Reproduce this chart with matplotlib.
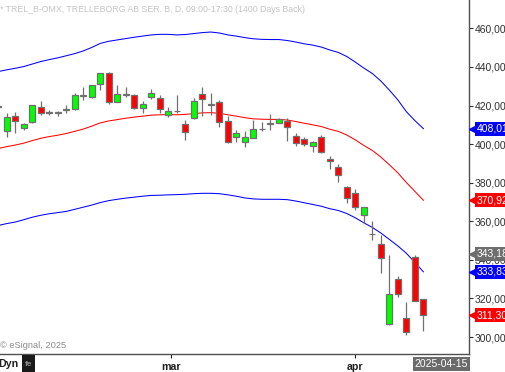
import numpy as np
import matplotlib
matplotlib.use("Agg")
import matplotlib.pyplot as plt
from matplotlib.patches import Rectangle

plt.rcParams['font.family'] = ['Liberation Sans', 'DejaVu Sans']

# daily candles, TREL_B (open, high, low, close)
opens = [419.6, 406.9, 414.6, 408.5, 411.3, 419.4, 416.5, 416.2, 417.8, 418.2,
         425.1, 424.2, 431.0, 436.7, 422.0, 425.8, 425.4, 418.5, 424.2, 423.7,
         414.9, 417.0, 410.3, 413.4, 425.8, 420.6, 421.7, 412.1, 403.8, 401.2,
         403.3, 407.9, 410.4, 411.1, 412.0, 404.4, 402.5, 399.2, 403.8, 392.1,
         388.0, 377.6, 374.5, 363.3, 353.6, 348.1, 306.6, 330.0, 309.7, 341.3,
         319.6]
highs = [420.5, 416.3, 416.8, 411.1, 420.5, 422.3, 417.7, 417.3, 420.3, 426.3,
         429.4, 430.8, 436.9, 437.2, 430.6, 429.4, 426.0, 422.3, 428.4, 425.4,
         419.1, 425.4, 412.5, 423.7, 429.4, 426.3, 422.9, 414.6, 407.3, 406.9,
         412.5, 411.6, 415.4, 413.4, 413.4, 405.6, 403.8, 401.8, 404.7, 393.8,
         389.7, 378.3, 376.7, 367.5, 360.2, 352.9, 342.5, 331.7, 318.3, 342.5,
         319.8]
lows = [418.5, 403.8, 405.6, 407.3, 411.0, 415.1, 415.1, 414.7, 416.0, 417.7,
        422.9, 423.7, 428.0, 420.6, 421.8, 424.6, 418.0, 416.0, 423.2, 416.0,
        414.2, 416.0, 402.1, 413.2, 414.7, 415.1, 408.7, 400.4, 401.2, 398.7,
        403.1, 406.8, 407.3, 410.8, 401.8, 399.2, 399.0, 396.1, 395.2, 387.1,
        380.5, 369.3, 365.9, 359.0, 350.3, 333.4, 306.4, 320.9, 301.1, 318.5,
        303.3]
closes = [419.4, 414.2, 411.8, 410.3, 420.3, 416.0, 416.2, 416.5, 418.2, 425.4,
          425.5, 430.6, 436.7, 422.0, 426.0, 425.4, 418.5, 420.6, 426.3, 418.0,
          417.3, 417.4, 406.1, 422.5, 423.2, 420.2, 411.6, 400.9, 405.6, 403.8,
          407.7, 407.7, 410.8, 412.9, 409.0, 400.4, 399.9, 401.2, 395.8, 391.1,
          383.8, 371.9, 367.3, 367.3, 353.2, 340.8, 322.2, 322.2, 302.5, 318.7,
          311.3]

# bollinger bands
upper = [437.6, 438.5, 439.3, 440.2, 441.5, 442.8, 443.8, 444.7, 445.8, 446.9,
         448.3, 450.1, 452.2, 453.3, 454.0, 454.7, 455.4, 456.0, 456.6, 456.9,
         456.9, 456.6, 456.8, 457.3, 457.8, 458.1, 457.6, 456.6, 456.0, 455.2,
         454.6, 454.3, 454.2, 454.2, 453.7, 452.9, 452.0, 451.3, 450.3, 448.8,
         447.5, 445.4, 442.5, 439.4, 436.6, 432.7, 428.0, 422.9, 416.8, 412.2,
         408.0]
middle = [397.7, 398.7, 399.5, 400.5, 401.8, 403.0, 403.9, 404.6, 405.5, 406.6,
          407.8, 409.3, 411.0, 412.0, 412.7, 413.4, 414.0, 414.5, 415.0, 415.2,
          415.3, 415.2, 415.4, 415.8, 416.2, 416.3, 416.0, 415.2, 414.5, 413.7,
          413.1, 412.9, 412.8, 412.8, 412.5, 411.7, 410.8, 410.0, 409.1, 407.7,
          406.6, 404.7, 402.2, 399.3, 396.7, 393.3, 389.3, 385.1, 380.1, 375.5,
          370.9]
lower = [357.8, 358.8, 359.6, 360.8, 362.1, 363.1, 363.9, 364.5, 365.1, 366.2,
         367.3, 368.4, 369.7, 370.7, 371.4, 372.0, 372.5, 373.0, 373.4, 373.5,
         373.7, 373.8, 374.0, 374.3, 374.5, 374.5, 374.3, 373.7, 373.0, 372.1,
         371.6, 371.4, 371.4, 371.4, 371.2, 370.5, 369.6, 368.7, 367.8, 366.5,
         365.6, 364.0, 361.8, 359.2, 356.8, 353.9, 350.6, 347.2, 343.4, 338.7,
         333.8]

month_pos = [20.3, 42.0]
month_labels = ['mar', 'apr']
yticks = [300, 320, 340, 360, 380, 400, 420, 440, 460]

# right-hand value tags: (value, text, colour)
tags = [(408.01, '408,01', '#0000ff'),
        (370.92, '370,92', '#ff0000'),
        (343.18, '343,18', '#6e6e6e'),
        (333.83, '333,83', '#0000ff'),
        (311.30, '311,30', '#ff0000')]

fig = plt.figure(figsize=(5.06, 3.72), dpi=100)
ax = fig.add_axes([0, 18 / 372, 469.3 / 506, 354 / 372])

x = np.arange(len(closes))
ax.plot(x, upper, color='#0000ff', lw=0.75, zorder=1)
ax.plot(x, lower, color='#0000ff', lw=0.75, zorder=1)
ax.plot(x, middle, color='#ff0000', lw=0.75, zorder=1)

o = np.array(opens)
c = np.array(closes)
cols = np.where(c >= o, '#00ff00', '#ff0000')
ax.vlines(x, lows, highs, color='#707070', lw=0.9, zorder=2)
ax.bar(x, np.abs(c - o), bottom=np.minimum(o, c), width=0.72,
       color=cols, edgecolor='#707070', linewidth=0.9, zorder=3)

ax.set_xlim(0.21, 55.4)
ax.set_ylim(291.2, 474.7)

for s in ['top', 'left']:
    ax.spines[s].set_visible(False)
for s in ['right', 'bottom']:
    ax.spines[s].set_color('#505050')
    ax.spines[s].set_linewidth(1.0)

ax.yaxis.tick_right()
ax.set_yticks(yticks)
ax.set_yticklabels([f'{v:.2f}'.replace('.', ',') for v in yticks])
ax.tick_params(axis='y', length=3, pad=1, labelsize=7.5, colors='#303030')
ax.set_xticks(month_pos)
ax.set_xticklabels(month_labels, fontweight='bold')
ax.tick_params(axis='x', length=3, pad=3, labelsize=7.7, colors='#202020')

ytr = ax.get_yaxis_transform()
for val, txt, col in tags:
    ax.plot([1.009], [val], marker='<', markersize=7, color=col,
            transform=ytr, clip_on=False, zorder=5)
    ax.text(1.016, val, txt, transform=ytr, ha='left', va='center',
            fontsize=7.5, color='white', clip_on=False, zorder=6,
            bbox=dict(boxstyle='square,pad=0.18', fc=col, ec='none'))

fig.text(0.0, 1 - 9 / 372,
         '* TREL_B-OMX, TRELLEBORG AB SER. B, D, 09:00-17:30 (1400 Days Back)',
         ha='left', va='center', fontsize=6.3, color='#c4c4c4')
fig.text(0.0, 1 - 345 / 372, '\u00a9 eSignal, 2025', ha='left', va='center',
         fontsize=6.7, color='#8c8c8c')
fig.text(-0.004, 1 - 364 / 372, 'Dyn', ha='left', va='center',
         fontsize=7.7, fontweight='bold', color='#202020')
fig.patches.append(Rectangle((22 / 506, 0), 13 / 506, 17 / 372,
                             transform=fig.transFigure, fc='#1a1a1a', ec='none'))
fig.text(28.5 / 506, 1 - 364 / 372, 'fe', ha='center', va='center',
         fontsize=6, fontweight='bold', color='#8a8a8a')
fig.text(468 / 506, 1 - 364 / 372, '2025-04-15', ha='right', va='center',
         fontsize=7.5, color='white',
         bbox=dict(boxstyle='square,pad=0.2', fc='#6b6b6b', ec='none'))

fig.savefig('out.png', dpi=100)
